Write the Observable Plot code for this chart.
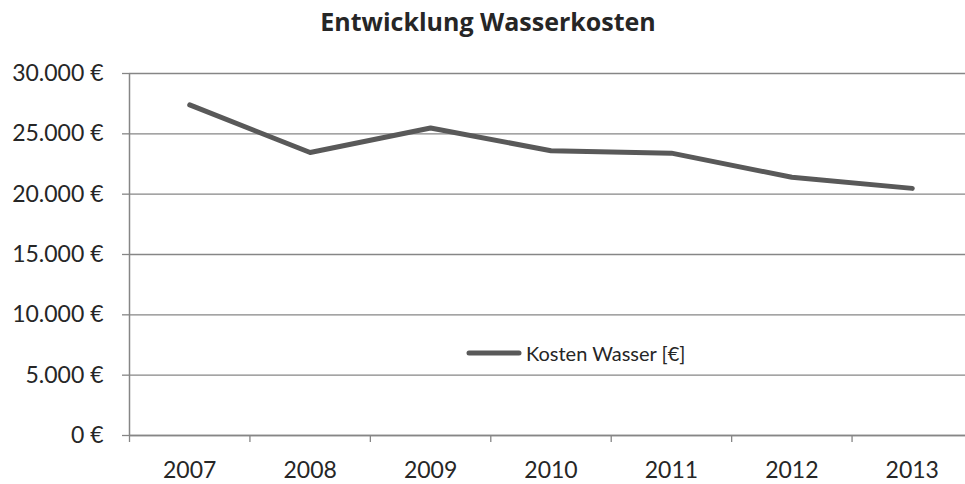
<!DOCTYPE html>
<html>
<head>
<meta charset="utf-8">
<script src="https://cdn.jsdelivr.net/npm/d3@7"></script>
<script src="https://cdn.jsdelivr.net/npm/@observablehq/plot@0.6"></script>
<style>
  html, body { margin: 0; padding: 0; background: #fff; }
  #wrap { position: relative; width: 965px; height: 484px; overflow: hidden; font-family: Lato, "Open Sans", sans-serif; }
  #legend { position: absolute; left: 466px; top: 341px; display: flex; align-items: center; font-size: 20px; color: #262626; }
  #legend svg { display: block; }
  #legend span { margin-left: 4px; }
</style>
</head>
<body>
<div id="wrap"></div>
<script>
const title = "Entwicklung Wasserkosten";
const seriesName = "Kosten Wasser [€]";
const years = [2007, 2008, 2009, 2010, 2011, 2012, 2013];
const costs = [27400, 23450, 25480, 23600, 23400, 21400, 20480];
const yTicks = [0, 5000, 10000, 15000, 20000, 25000, 30000];

const data = years.map((year, i) => ({year, cost: costs[i]}));
const boundaries = years.map(y => y - 0.5).concat([years[years.length - 1] + 0.5]);
const euro = d => d3.format(",")(d).replace(/,/g, ".") + " €";
const gridColor = "#868686";

const chart = Plot.plot({
  width: 965,
  height: 484,
  marginTop: 73,
  marginBottom: 49,
  marginLeft: 129,
  marginRight: -7,
  style: {fontFamily: "Lato, 'Open Sans', sans-serif", fontSize: "23px", color: "#262626", background: "#fff", overflow: "visible"},
  x: {type: "linear", domain: [boundaries[0], boundaries[boundaries.length - 1]]},
  y: {domain: [0, 30000]},
  marks: [
    Plot.gridY(yTicks, {stroke: gridColor, strokeOpacity: 1, strokeWidth: 1.3}),
    Plot.ruleX([boundaries[0]], {y1: 0, y2: 30000, stroke: gridColor, strokeWidth: 1.5}),
    Plot.axisY(yTicks, {tickSize: 7, tickPadding: 19, tickFormat: euro, stroke: gridColor, strokeWidth: 1.3, label: null}),
    Plot.axisX(boundaries, {tickSize: 7, tickFormat: () => "", stroke: gridColor, strokeWidth: 1.3, label: null}),
    Plot.axisX(years, {tickSize: 0, tickPadding: 26, tickFormat: d => String(d), label: null}),
    Plot.ruleY([0], {stroke: gridColor, strokeWidth: 1.5}),
    Plot.line(data, {x: "year", y: "cost", stroke: "#595959", strokeWidth: 5, strokeLinecap: "round", strokeLinejoin: "round"}),
    Plot.text([title], {frameAnchor: "top", dx: -63, dy: -51, lineAnchor: "middle", fontWeight: "bold", fontSize: 25, fontFamily: "'Open Sans', sans-serif"})
  ]
});
const wrap = document.getElementById("wrap");
wrap.appendChild(chart);

const legend = document.createElement("div");
legend.id = "legend";
legend.innerHTML = `<svg width="56" height="8"><line x1="3" y1="4" x2="53" y2="4" stroke="#595959" stroke-width="5" stroke-linecap="round"/></svg><span></span>`;
legend.querySelector("span").textContent = seriesName;
wrap.appendChild(legend);
</script>
</body>
</html>
